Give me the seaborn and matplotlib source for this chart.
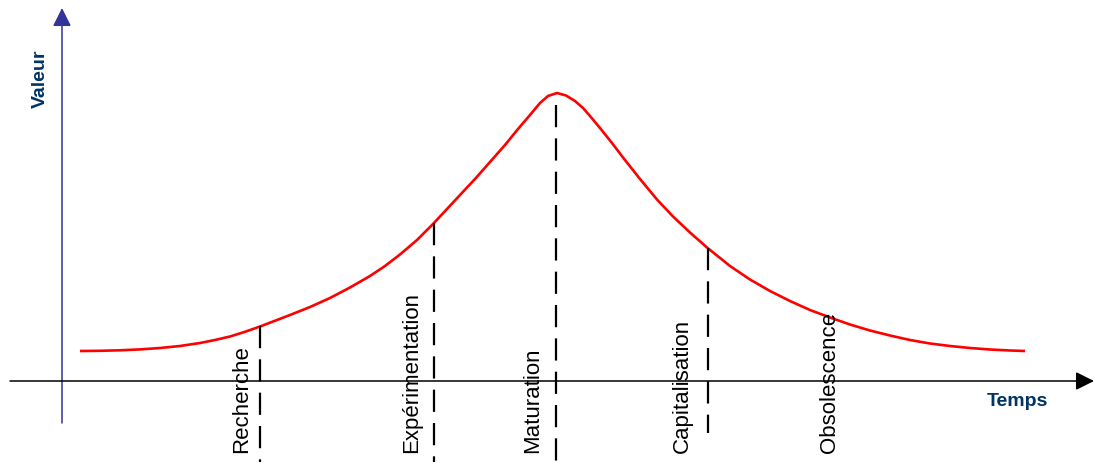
import numpy as np
import pandas as pd
import matplotlib
matplotlib.use("Agg")
import matplotlib.pyplot as plt
import seaborn as sns

# courbe de valeur
temps = [18, 38, 58, 78, 98, 118, 138, 153, 168, 183, 198, 228, 248, 268, 288,
         308, 323, 338, 355, 371, 385, 398, 413, 428, 443, 456, 468, 478, 486, 495,
         504, 513, 521, 528, 538, 550, 561, 578, 595, 611, 628, 645, 668, 688,
         708, 728, 748, 768, 788, 808, 828, 848, 868, 888, 908, 928, 948, 963]
valeur = [30, 30.2, 30.7, 31.6, 33, 35, 38, 41, 44.5, 49.2, 54.5, 66, 74, 83, 93.5,
          105, 115, 126.5, 141, 157, 172, 186, 202, 219, 236, 252, 266, 278, 285, 288,
          285.5, 280, 273, 265, 253, 238, 223.5, 202, 181.5, 164.5, 148.5, 133.5,
          115, 101.5, 90, 80, 71, 63.5, 56.5, 50.5, 45.5, 41, 37.5, 35, 33, 31.5,
          30.5, 30]

# phases
phases = ["Recherche", "Expérimentation", "Maturation", "Capitalisation", "Obsolescence"]
phase_label_x = [180, 350, 471, 620, 768]
limite_x = [198, 372, 494, 646]
limite_haut = [55, 158, 276, 133]
limite_bas = [-81, -81, -81, -52]

sns.set_style("white")
plt.rcParams["font.family"] = ["Liberation Sans", "DejaVu Sans"]

fig = plt.figure(figsize=(10.94, 4.62), dpi=100)
ax = fig.add_axes([0, 0, 1, 1])
ax.set_xlim(-62, 1032)
ax.set_ylim(-81, 381)
ax.axis("off")

df = pd.DataFrame({"temps": temps, "valeur": valeur})
sns.lineplot(data=df, x="temps", y="valeur", color="#ff0000", linewidth=1.9,
             sort=False, solid_joinstyle="round", solid_capstyle="butt", ax=ax)

# lignes pointillées
for x, y0, y1 in zip(limite_x, limite_haut, limite_bas):
    ax.plot([x, x], [y0, y1], color="black", linewidth=1.6,
            dashes=(10, 5), solid_capstyle="butt")

# libellés des phases
for x, txt in zip(phase_label_x, phases):
    ax.text(x, -72, txt, rotation=90, ha="center", va="bottom", fontsize=16,
            color="black")

# axes avec flèches
bleu_axe = "#333399"
ax.annotate("", xy=(0, 373), xytext=(0, -42),
            arrowprops=dict(arrowstyle="-|>,head_length=0.8,head_width=0.4",
                            mutation_scale=14, color=bleu_axe, lw=1.1,
                            shrinkA=0, shrinkB=0))
ax.annotate("", xy=(1032, 0), xytext=(-52, 0),
            arrowprops=dict(arrowstyle="-|>,head_length=0.8,head_width=0.4",
                            mutation_scale=14, color="black", lw=1.1,
                            shrinkA=0, shrinkB=0))

bleu_texte = "#003366"
ax.text(-22, 302, "Valeur", rotation=90, ha="center", va="center",
        fontsize=14, fontweight="bold", color=bleu_texte)
ax.text(955, -20, "Temps", ha="center", va="center",
        fontsize=14, fontweight="bold", color=bleu_texte)

fig.savefig("out.png", dpi=100)
